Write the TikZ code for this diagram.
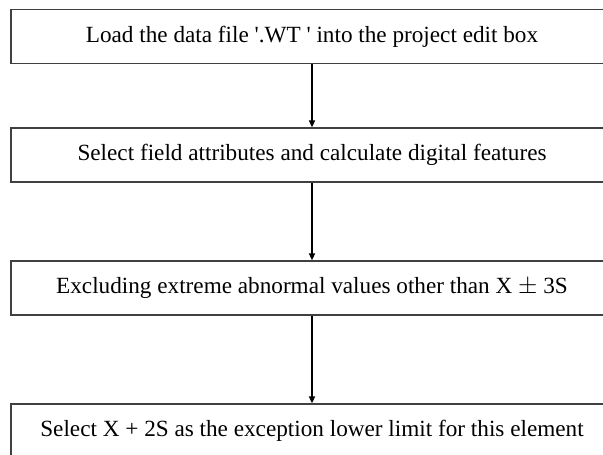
\documentclass[tikz,border=0pt]{standalone}
\usepackage{fontspec}
\setmainfont{Liberation Serif}
\usetikzlibrary{arrows.meta}
\begin{document}
\begin{tikzpicture}[x=1pt,y=-1pt,
  every node/.style={font=\fontsize{23.2}{27}\selectfont},
  bx/.style={draw=black!75,line width=1.3pt,minimum width=602pt,minimum height=54pt,inner sep=0pt},
  ar/.style={line width=1.6pt,-{Triangle[length=7pt,width=6pt]}}]
\clip (0,0) rectangle (603,455);
\def\xc{312}
%------------- steps
\node[bx] (load) at (\xc,36.4) {Load the data file \textquotesingle.WT \textquotesingle{} into the project edit box};
\node[bx] (feat) at (\xc,155) {Select field attributes and calculate digital features};
\node[bx] (excl) at (\xc,288) {Excluding extreme abnormal values other than X $\pm$ 3S};
\node[bx] (lim) at (\xc,431) {Select X + 2S as the exception lower limit for this element};
%------------- arrows
\draw[ar] (load) -- (feat);
\draw[ar] (feat) -- (excl);
\draw[ar] (excl) -- (lim);
\end{tikzpicture}
\end{document}
